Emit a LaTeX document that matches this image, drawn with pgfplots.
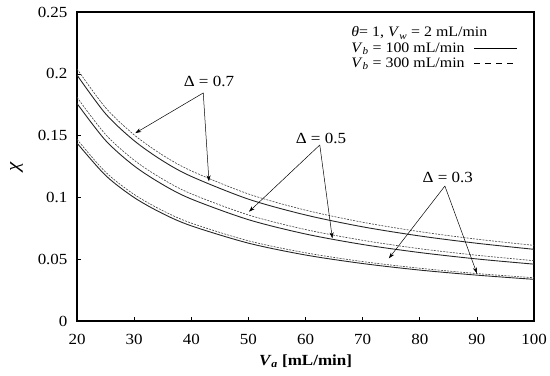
\documentclass[border=0pt]{standalone}
\usepackage{fontspec}
\setmainfont{Liberation Serif}[FakeStretch=1.1]
\usepackage{pgfplots}
\pgfplotsset{compat=1.18}
\usetikzlibrary{arrows.meta}
\newcommand{\fs}{\fontsize{15.5}{17}\selectfont}
\newcommand{\fl}{\fontsize{14.5}{16}\selectfont}
\begin{document}
\begin{tikzpicture}[font=\fs]
\begin{axis}[
  scale only axis, width=457bp, height=309bp,
  xmin=20, xmax=100, ymin=0, ymax=0.25,
  xtick={20,30,40,50,60,70,80,90,100},
  ytick={0,0.05,0.1,0.15,0.2,0.25},
  yticklabels={0,0.05,0.1,0.15,0.2,0.25},
  tick pos=left, tick align=inside,
  major tick length=4bp,
  axis line style={line width=1.3pt},
  every tick/.style={black, line width=0.6pt},
  /pgf/number format/assume math mode=true,
  tick label style={font=\fs},
  xticklabel style={yshift=-10bp},
  yticklabel style={xshift=-6bp},
  xlabel={\textbf{\textit{V}\textsubscript{\textit{a}} [mL/min]}},
  ylabel={\fontsize{19}{20}\selectfont\textit{χ}},
  xlabel style={font=\fs, yshift=-3bp},
  ylabel style={yshift=8bp},
]
% Delta = 0.7, V_b = 300 (dashed)
\addplot[smooth, black!75, line width=0.6pt, dash pattern=on 2pt off 1.2pt] coordinates {
(20,0.2040) (25,0.1726) (30,0.1506) (35,0.1342) (40,0.1215) (50,0.1028) (60,0.0897) (70,0.0799) (80,0.0723) (90,0.0662) (100,0.0612)};
% Delta = 0.7, V_b = 100 (solid)
\addplot[smooth, black!85, line width=0.9pt] coordinates {
(20,0.1990) (25,0.1677) (30,0.1459) (35,0.1296) (40,0.1170) (50,0.0986) (60,0.0858) (70,0.0762) (80,0.0688) (90,0.0629) (100,0.0580)};
% Delta = 0.5 dashed
\addplot[smooth, black!75, line width=0.6pt, dash pattern=on 2pt off 1.2pt] coordinates {
(20,0.1810) (25,0.1509) (30,0.1301) (35,0.1148) (40,0.1029) (50,0.0858) (60,0.0740) (70,0.0653) (80,0.0585) (90,0.0532) (100,0.0488)};
% Delta = 0.5 solid
\addplot[smooth, black!85, line width=0.9pt] coordinates {
(20,0.1760) (25,0.1461) (30,0.1255) (35,0.1104) (40,0.0987) (50,0.0820) (60,0.0704) (70,0.0619) (80,0.0554) (90,0.0502) (100,0.0460)};
% Delta = 0.3 dashed
\addplot[smooth, black!75, line width=0.6pt, dash pattern=on 2pt off 1.2pt] coordinates {
(20,0.1470) (25,0.1205) (30,0.1024) (35,0.0893) (40,0.0792) (50,0.0649) (60,0.0552) (70,0.0481) (80,0.0427) (90,0.0384) (100,0.0350)};
% Delta = 0.3 solid
\addplot[smooth, black!85, line width=0.9pt] coordinates {
(20,0.1440) (25,0.1178) (30,0.0999) (35,0.0869) (40,0.0770) (50,0.0630) (60,0.0534) (70,0.0465) (80,0.0412) (90,0.0371) (100,0.0337)};

% legend (drawn by hand)
\node[anchor=west, inner sep=0pt, font=\fl] at (axis cs:68.0,0.2330) {\textit{θ}= 1, \textit{V}\textsubscript{\textit{w}} = 2 mL/min};
\node[anchor=west, inner sep=0pt, font=\fl] at (axis cs:68.0,0.2205) {\textit{V}\textsubscript{\textit{b}} = 100 mL/min};
\node[anchor=west, inner sep=0pt, font=\fl] at (axis cs:68.0,0.2080) {\textit{V}\textsubscript{\textit{b}} = 300 mL/min};
\draw[line width=0.9pt] (axis cs:89.5,0.2205) -- (axis cs:97.0,0.2205);
\draw[line width=0.9pt, dash pattern=on 6bp off 5bp] (axis cs:89.5,0.2080) -- (axis cs:97.0,0.2080);

% annotations
\node[font=\fs] at (axis cs:43.1,0.1934) {Δ = 0.7};
\draw[line width=0.5pt, -{Stealth[length=6bp,width=4bp]}] (axis cs:42.1,0.1845) -- (axis cs:30.2,0.152);
\draw[line width=0.5pt, -{Stealth[length=6bp,width=4bp]}] (axis cs:42.1,0.1845) -- (axis cs:43.1,0.113);
\node[font=\fs] at (axis cs:62.7,0.1480) {Δ = 0.5};
\draw[line width=0.5pt, -{Stealth[length=6bp,width=4bp]}] (axis cs:62.5,0.1424) -- (axis cs:50.1,0.0884);
\draw[line width=0.5pt, -{Stealth[length=6bp,width=4bp]}] (axis cs:62.5,0.1424) -- (axis cs:64.7,0.0669);
\node[font=\fs] at (axis cs:84.9,0.1165) {Δ = 0.3};
\draw[line width=0.5pt, -{Stealth[length=6bp,width=4bp]}] (axis cs:84.4,0.1092) -- (axis cs:74.6,0.0507);
\draw[line width=0.5pt, -{Stealth[length=6bp,width=4bp]}] (axis cs:84.4,0.1092) -- (axis cs:90.0,0.0386);
\end{axis}
\pgfresetboundingbox
\path ([shift={(-77bp,-54bp)}]current axis.south west) rectangle ([shift={(16bp,12bp)}]current axis.north east);
\end{tikzpicture}
\end{document}
